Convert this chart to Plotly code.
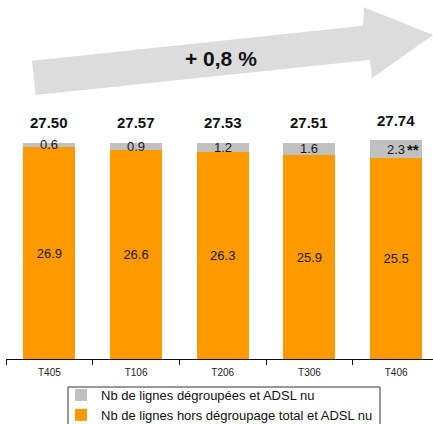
import plotly.graph_objects as go

# Quarterly data (millions of lines)
quarters = ["T405", "T106", "T206", "T306", "T406"]
hors_degroupage = [26.9, 26.6, 26.3, 25.9, 25.5]
degroupees = [0.6, 0.9, 1.2, 1.6, 2.3]
totals = ["27.50", "27.57", "27.53", "27.51", "27.74"]
growth_label = "+ 0,8 %"
footnote_mark = "**"

ORANGE = "#FF9900"
GREY = "#C0C0C0"
FONT = "Liberation Sans, Arial, sans-serif"

W, H = 433, 424
ML, MR, MT, MB = 6, 0, 0, 65
PW, PH = W - ML - MR, H - MT - MB
PX_PER_CAT = 86.7
PX_PER_UNIT = 7.87

fig = go.Figure()
fig.add_trace(go.Bar(
    x=quarters, y=hors_degroupage,
    name="Nb de lignes hors dégroupage total et ADSL nu",
    marker=dict(color=ORANGE, line=dict(width=0)),
    text=[f"{v:.1f}" for v in hors_degroupage],
    textposition="inside", insidetextanchor="middle",
    textfont=dict(family=FONT, size=13, color="#1a1a1a"),
    width=0.6,
))
fig.add_trace(go.Bar(
    x=quarters, y=degroupees,
    name="Nb de lignes dégroupées et ADSL nu",
    marker=dict(color=GREY, line=dict(width=0)),
    width=0.6,
))

annotations = []
for q, a, b, t in zip(quarters, hors_degroupage, degroupees, totals):
    # value of the unbundled segment
    annotations.append(dict(x=q, y=a + b / 2, text=f"{b:.1f}", showarrow=False,
                            font=dict(family=FONT, size=13, color="#1a1a1a"),
                            xanchor="center", yanchor="middle"))
    # total above the stack
    annotations.append(dict(x=q, y=a + b, text=f"<b>{t}</b>", showarrow=False,
                            font=dict(family=FONT, size=15, color="#111111"),
                            xanchor="center", yanchor="middle", yshift=20))

annotations.append(dict(x=quarters[-1], y=hors_degroupage[-1] + degroupees[-1],
                        text=f"<b>{footnote_mark}</b>", showarrow=False,
                        font=dict(family=FONT, size=15, color="#111111"),
                        xanchor="center", yanchor="middle", xshift=17, yshift=-9))


def px(x, y):
    """Pixel position on the page -> paper coordinates."""
    return (x - ML) / PW, (H - MB - y) / PH


arrow_pts = [(32, 60.7), (363, 25.7), (364, 7.3), (433, 35),
             (372, 78.3), (370, 60), (35.7, 95)]
path = "M " + " L ".join("{:.4f},{:.4f}".format(*px(x, y)) for x, y in arrow_pts) + " Z"

gx, gy = px(221, 59)
annotations.append(dict(x=gx, y=gy, xref="paper", yref="paper",
                        text=f"<b>{growth_label}</b>", showarrow=False,
                        font=dict(family=FONT, size=21, color="#111111"),
                        xanchor="center", yanchor="middle"))

# legend frame (drawn separately so it can run past the bottom edge)
bx0, by0 = px(68, 387)
bx1, by1 = px(380, 440)
lx, ly = px(61, 380)

fig.update_layout(
    width=W, height=H,
    margin=dict(l=ML, r=MR, t=MT, b=MB, autoexpand=False),
    barmode="stack",
    plot_bgcolor="white", paper_bgcolor="white",
    showlegend=True,
    legend=dict(x=lx, y=ly, xanchor="left", yanchor="top",
                traceorder="reversed", borderwidth=0,
                bgcolor="rgba(0,0,0,0)",
                font=dict(family=FONT, size=13, color="#111111"),
                itemwidth=30, tracegroupgap=0),
    shapes=[
        dict(type="path", path=path, xref="paper", yref="paper",
             fillcolor="#DCDCDC", line=dict(width=0), layer="below"),
        dict(type="rect", xref="paper", yref="paper",
             x0=bx0, y0=by0, x1=bx1, y1=by1,
             line=dict(color="#333333", width=1), fillcolor="rgba(0,0,0,0)"),
    ],
    annotations=annotations,
    uniformtext=dict(mode=False),
)
fig.update_xaxes(
    range=[-0.5, -0.5 + PW / PX_PER_CAT],
    showline=True, linecolor="#111111", linewidth=1,
    ticks="outside", tickson="boundaries", ticklen=5, tickcolor="#111111",
    ticklabelstandoff=4,
    tickfont=dict(family=FONT, size=10, color="#222222"),
    showgrid=False,
)
fig.update_yaxes(
    range=[0, PH / PX_PER_UNIT],
    visible=False, showgrid=False, zeroline=False,
)

fig.write_html("out.html")
